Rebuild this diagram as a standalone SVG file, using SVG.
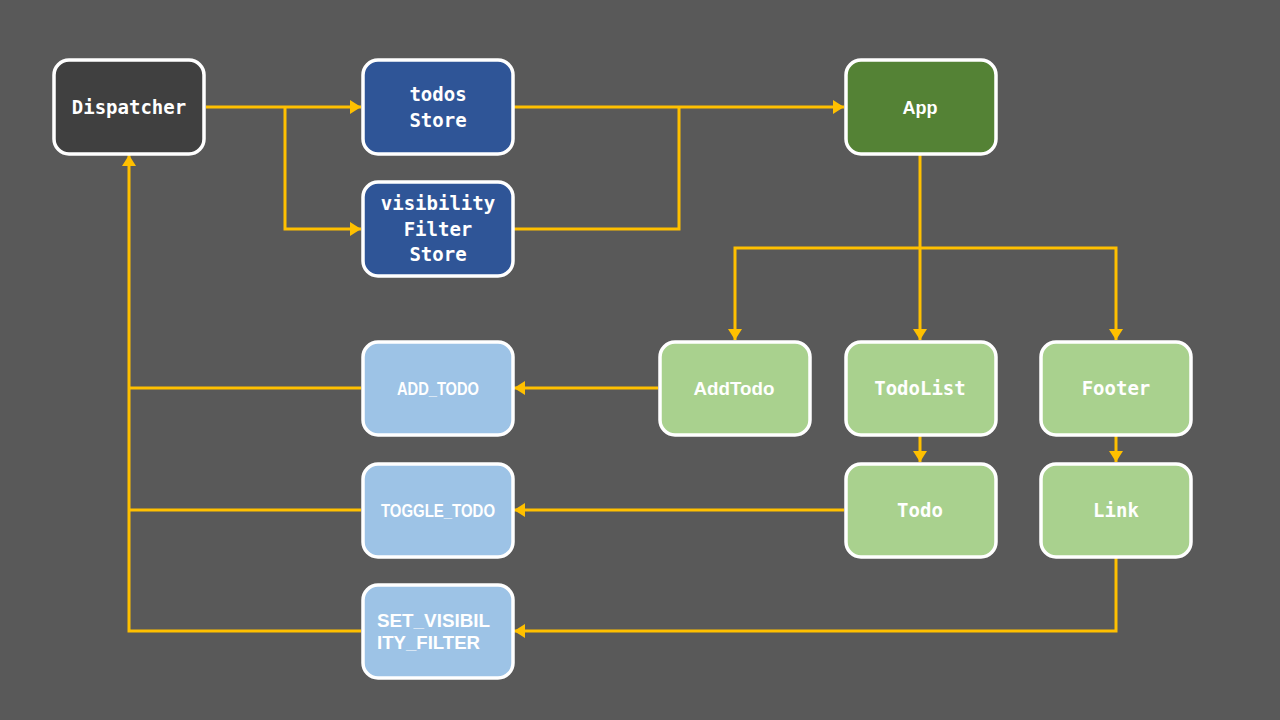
<svg xmlns="http://www.w3.org/2000/svg" width="1280" height="720" viewBox="0 0 1280 720">
<defs>
<style>
.box{stroke:#FFFFFF;stroke-width:3.5}
.dark{fill:#404040}
.store{fill:#2F5597}
.app{fill:#548235}
.comp{fill:#A9D18E}
.act{fill:#9DC3E6}
.mono{font-family:"DejaVu Sans Mono","Liberation Mono",monospace;font-weight:bold;font-size:19px;fill:#FFFFFF;text-anchor:middle}
.sans{font-family:"Liberation Sans","Open Sans",sans-serif;font-weight:bold;font-size:18px;fill:#FFFFFF;text-anchor:middle}
.conn{fill:none;stroke:#FFC000;stroke-width:3}
</style>
<marker id="arr" viewBox="0 0 11 14" refX="11" refY="7" markerWidth="11" markerHeight="14" markerUnits="userSpaceOnUse" orient="auto">
<path d="M0,0 L11,7 L0,14 Z" fill="#FFC000"/>
</marker>
</defs>
<rect width="1280" height="720" fill="#595959"/>
<g id="connectors">
<path class="conn" d="M206,107 H361" marker-end="url(#arr)"/>
<path class="conn" d="M285,107 V229 H361" marker-end="url(#arr)"/>
<path class="conn" d="M514,107 H844" marker-end="url(#arr)"/>
<path class="conn" d="M514,229 H679 V107"/>
<path class="conn" d="M920,155 V340" marker-end="url(#arr)"/>
<path class="conn" d="M920,248 H735 V340" marker-end="url(#arr)"/>
<path class="conn" d="M920,248 H1116 V340" marker-end="url(#arr)"/>
<path class="conn" d="M658,388 H514" marker-end="url(#arr)"/>
<path class="conn" d="M920,436 V462" marker-end="url(#arr)"/>
<path class="conn" d="M1116,436 V462" marker-end="url(#arr)"/>
<path class="conn" d="M844,510 H514" marker-end="url(#arr)"/>
<path class="conn" d="M1116,558 V631 H514" marker-end="url(#arr)"/>
<path class="conn" d="M361,388 H129"/>
<path class="conn" d="M361,510 H129"/>
<path class="conn" d="M361,631 H129 V155" marker-end="url(#arr)"/>
</g>
<g id="dispatcher">
<rect class="box dark" x="54" y="60" width="150" height="94" rx="15"/>
<text class="mono" x="129" y="114">Dispatcher</text>
</g>
<g id="todosStore">
<rect class="box store" x="363" y="60" width="150" height="94" rx="15"/>
<text class="mono" x="438" y="101">todos</text>
<text class="mono" x="438" y="127">Store</text>
</g>
<g id="visibilityFilterStore">
<rect class="box store" x="363" y="182" width="150" height="94" rx="15"/>
<text class="mono" x="438" y="210">visibility</text>
<text class="mono" x="438" y="236">Filter</text>
<text class="mono" x="438" y="261">Store</text>
</g>
<g id="app">
<rect class="box app" x="846" y="60" width="150" height="94" rx="15"/>
<text class="sans" x="920" y="114" textLength="35" lengthAdjust="spacingAndGlyphs">App</text>
</g>
<g id="addTodo">
<rect class="box comp" x="660" y="342" width="150" height="93" rx="15"/>
<text class="sans" x="734" y="395" textLength="81" lengthAdjust="spacingAndGlyphs">AddTodo</text>
</g>
<g id="todoList">
<rect class="box comp" x="846" y="342" width="150" height="93" rx="15"/>
<text class="mono" x="920" y="395">TodoList</text>
</g>
<g id="footer">
<rect class="box comp" x="1041" y="342" width="150" height="93" rx="15"/>
<text class="mono" x="1116" y="395">Footer</text>
</g>
<g id="todo">
<rect class="box comp" x="846" y="464" width="150" height="93" rx="15"/>
<text class="mono" x="920" y="517">Todo</text>
</g>
<g id="link">
<rect class="box comp" x="1041" y="464" width="150" height="93" rx="15"/>
<text class="mono" x="1116" y="517">Link</text>
</g>
<g id="addTodoAction">
<rect class="box act" x="363" y="342" width="150" height="93" rx="15"/>
<text class="sans" x="438" y="395" textLength="82" lengthAdjust="spacingAndGlyphs">ADD_TODO</text>
</g>
<g id="toggleTodoAction">
<rect class="box act" x="363" y="464" width="150" height="93" rx="15"/>
<text class="sans" x="438" y="517" textLength="114" lengthAdjust="spacingAndGlyphs">TOGGLE_TODO</text>
</g>
<g id="setVisibilityFilterAction">
<rect class="box act" x="363" y="585" width="150" height="93" rx="15"/>
<text class="sans" x="377" y="627" style="text-anchor:start" textLength="113" lengthAdjust="spacingAndGlyphs">SET_VISIBIL</text>
<text class="sans" x="377" y="649" style="text-anchor:start" textLength="103" lengthAdjust="spacingAndGlyphs">ITY_FILTER</text>
</g>
</svg>
